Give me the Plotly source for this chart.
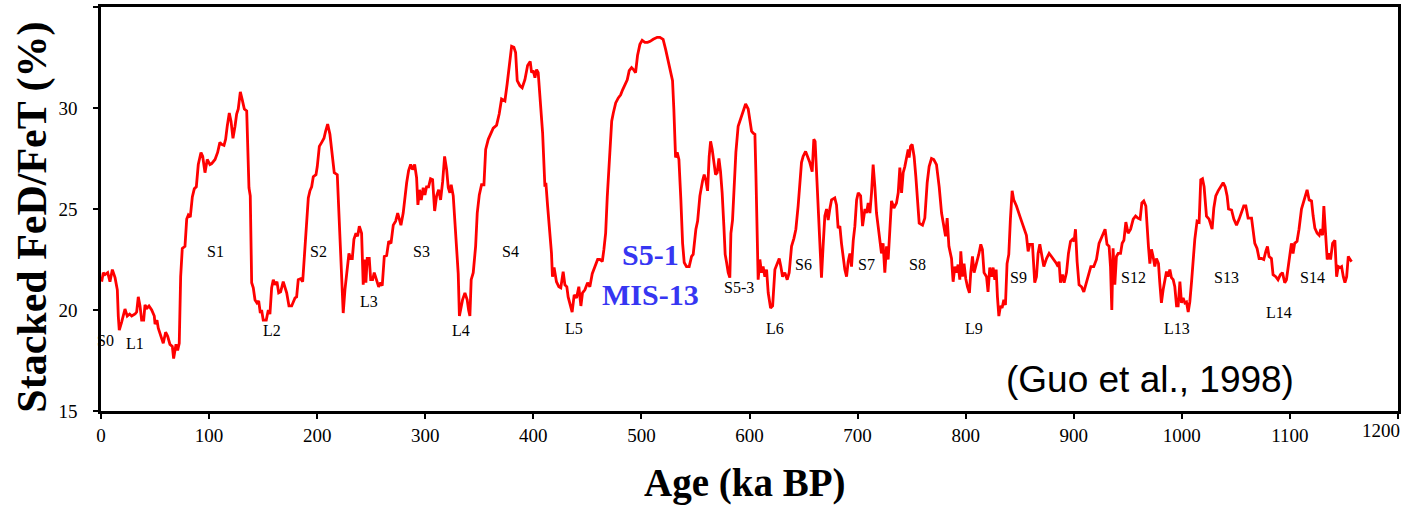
import plotly.graph_objects as go

# Age (ka BP) and stacked FeD/FeT (%)
AGE = [0.6, 2.1, 3.7, 6.2, 8.3, 10.5, 13, 15.1, 16, 16.9, 19.1, 22.2, 24.3, 26.5, 28.4, 31.5, 33, 34.5, 36.1, 37.6,
       39.5, 40.7, 42.6, 44.4, 46.9, 49.3, 50, 51.8, 53, 55.5, 57.6, 59.8, 61.7, 63.8, 66, 67.2, 68.4, 69.4, 70.9, 72.4,
       73.7, 75.2, 77.7, 79.3, 80.8, 82.6, 84.5, 86.3, 88.2, 90, 92.5, 94.1, 96.2, 98.3, 100.8, 102.4, 105.5, 107.9, 110, 111.6,
       113.8, 115.3, 116.8, 118.7, 120.3, 122.1, 124, 125.5, 127, 128.9, 130.7, 132.6, 134.8, 135.7, 136.9, 138.1, 139.4, 140.9, 142.5, 144.3,
       145.9, 147.4, 148.6, 150.1, 152.9, 154.8, 156.3, 157.9, 159.4, 161, 162.8, 164.4, 166.2, 168.6, 171.8, 173.9, 176.4, 179.5, 181, 182.5,
       184.7, 186.6, 188.7, 190.3, 191.8, 193.3, 194.9, 196.4, 198.9, 200.1, 202, 204.2, 206.3, 207.8, 209.7, 211.8, 214, 215.8, 218.6, 219.5,
       221.1, 222.6, 224.1, 225.7, 227.8, 229.4, 231, 232.5, 234, 235.9, 237.4, 239, 241.1, 242.6, 244.2, 245.1, 246.3, 248.2, 249.5, 251.3,
       252.8, 255, 256.9, 258.7, 260.2, 262.1, 264.3, 266.2, 268.3, 270.4, 272.6, 274.5, 276, 277.5, 279.6, 281.2, 282.8, 284.6, 286.5, 288.3,
       290.2, 292, 293.2, 294.7, 296.3, 298.1, 299.7, 301.2, 303.1, 304.9, 306.8, 308.7, 310.5, 312.4, 314.2, 316.1, 317.9, 319.8, 321.3, 322.8,
       324, 325.9, 327.5, 329, 330.5, 331.6, 334.5, 336.7, 338.8, 340.1, 341.3, 342.5, 344.4, 346.6, 348.1, 350, 352.1, 354.3, 355.9, 358.3,
       360.8, 362.9, 366, 368.4, 370.6, 373.7, 375.8, 377.7, 379.9, 382, 383.6, 385.1, 387.6, 389.7, 392.2, 394.7, 397.1, 398.4, 399.9, 401.5,
       403, 404.5, 407, 408.6, 410.7, 411.6, 413.2, 415.3, 416.8, 417.7, 419.2, 421.4, 423.6, 425.4, 427.6, 429.2, 431, 432.2, 434.1, 435.9,
       437.8, 440, 442.1, 444, 445.5, 447.7, 450.2, 452.3, 454.5, 457, 459.5, 461.6, 463.8, 465.3, 466.9, 468.4, 470, 471.2, 472.5, 474,
       476.2, 478.6, 480.8, 482.6, 484.7, 486.9, 488.7, 490.9, 492.7, 494.6, 496.4, 498.6, 500.7, 503.2, 505.7, 508.1, 510.9, 514.6, 517.1, 520.1,
       522.4, 524.8, 526.4, 528.8, 530, 531.6, 533.1, 534.7, 536.5, 538.1, 539.6, 541.7, 544.2, 546.4, 547.9, 550.4, 552, 554.1, 556.6, 558.1,
       559.7, 561.2, 562.7, 564, 565.5, 567.1, 568.6, 570.1, 571.7, 573.2, 574.7, 576.3, 577.5, 578.8, 580.3, 581.8, 582.8, 584.3, 585.8, 587.4,
       589.5, 591.1, 593.6, 596.4, 598.8, 600.3, 601.9, 603.4, 605, 605.9, 607.1, 608, 609.6, 611.1, 612.6, 614.2, 615.8, 617.3, 619.5, 621.4,
       623.5, 625.6, 627.5, 629, 630.6, 632.7, 634.9, 636.7, 638.9, 641.1, 642.9, 645, 646.6, 648.1, 649.6, 651.9, 653.7, 655.8, 658, 659.5,
       660.7, 662, 663.5, 665.1, 666.6, 668.1, 669.7, 671.3, 672.8, 674.3, 675.9, 678.9, 680.5, 682, 683.6, 685.1, 686.7, 688.2, 689.8, 691.3,
       692.9, 694.4, 696, 697.5, 699.1, 700.6, 702.8, 704.6, 706.8, 708.3, 709.8, 711.4, 712.9, 714.4, 716, 717.5, 719, 720.6, 722.1, 723.6,
       725.2, 726.8, 728.3, 729.9, 731.4, 733.6, 736, 737.6, 739.1, 740.7, 742.2, 743.7, 745.3, 746.8, 747.7, 749, 750.5, 752.3, 753.9, 755.5,
       757, 760.1, 762.2, 764.4, 766.2, 768.4, 770.5, 773, 775.5, 777.7, 779.8, 781.4, 782.9, 784.5, 786.9, 788.4, 790, 791.5, 793, 794.6,
       795.5, 797.1, 798.5, 800.1, 801.7, 803.5, 804.7, 806.3, 807.8, 810, 812.1, 814, 815.5, 817, 819.3, 820.7, 822.3, 823.9, 825.4, 827,
       828.2, 829.4, 830.7, 832.2, 833.7, 835.3, 836.8, 838.3, 839.9, 841.4, 843, 844.5, 847, 850.1, 853.1, 856.2, 857.8, 859.3, 861.8, 863.9,
       865.5, 867, 868.6, 870.1, 872.3, 874.8, 877.2, 879.4, 881.5, 884, 885.5, 886.4, 887.7, 889.6, 891.1, 893.3, 895.1, 897, 898.8, 900.3,
       901.6, 903.1, 904.9, 907.2, 909.3, 911.8, 913.9, 915.8, 918.5, 921, 923.4, 925.6, 927.8, 929, 930.8, 932.7, 934, 935.2, 936.4, 938,
       939.5, 941.1, 943.3, 944.8, 946.4, 948.2, 950.3, 952.6, 955, 957.2, 959.3, 961.4, 963, 964.8, 966.7, 967.9, 969.1, 970.4, 971.9, 973.4,
       975, 976.5, 978.4, 979.6, 981.1, 982.7, 984.5, 985.8, 987.3, 988.9, 990.4, 992, 993.5, 995.1, 996.6, 998.2, 999.7, 1001.2, 1002.8, 1004.3,
       1005.9, 1007.4, 1009, 1010.4, 1012, 1014.1, 1016, 1017.5, 1019.1, 1020.6, 1022.8, 1025.2, 1026.5, 1028, 1029.6, 1031.4, 1033.6, 1035.8, 1038.2, 1040.1,
       1041.9, 1043.2, 1046, 1048.1, 1050.6, 1053, 1055.2, 1057.3, 1059.2, 1061.3, 1064.5, 1066, 1067.5, 1069.6, 1071.5, 1073.7, 1075.8, 1077.7, 1079.2, 1080.7,
       1082.9, 1084.4, 1086.9, 1089, 1091.2, 1093.1, 1095.2, 1096.8, 1098.3, 1099.8, 1101.4, 1102.9, 1104.4, 1106.6, 1108.4, 1110.7, 1112.8, 1114.7, 1115.9, 1117.8,
       1120, 1121.5, 1123.1, 1125.2, 1127.1, 1128.6, 1130.2, 1131.4, 1133, 1134.5, 1136.1, 1137.6, 1139.5, 1141.6, 1143.2, 1144.7, 1146.3, 1147.8, 1149.4, 1150.9,
       1152.5, 1154, 1155.6, 1157.1]

FED = [21.4, 21.85, 21.75, 21.85, 21.4, 22.0, 21.6, 21.0, 19.7, 19.0, 19.4, 20.05, 19.7, 19.8, 19.7, 19.8, 19.9, 20.65, 20.2, 19.5,
       19.5, 20.25, 20.1, 20.2, 20.0, 19.7, 19.3, 19.5, 19.1, 18.7, 18.35, 18.9, 18.7, 18.3, 18.2, 17.6, 18.0, 18.3, 18.0, 18.35,
       21.65, 23.05, 23.15, 24.5, 24.7, 24.6, 25.6, 26.0, 26.1, 27.2, 27.8, 27.6, 26.8, 27.45, 27.2, 27.25, 27.45, 27.8, 28.3, 28.2,
       28.15, 28.45, 29.1, 29.75, 29.35, 28.5, 29.1, 29.7, 29.95, 30.8, 30.4, 29.95, 29.85, 27.6, 26.05, 25.65, 21.35, 21.1, 20.5, 20.35,
       20.45, 19.85, 20.0, 19.5, 19.5, 20.0, 19.8, 21.1, 21.5, 21.25, 21.4, 20.85, 20.9, 21.4, 20.85, 20.2, 20.2, 20.6, 20.65, 21.5,
       21.55, 21.4, 23.0, 24.65, 25.55, 25.9, 26.1, 26.6, 26.7, 27.1, 28.1, 28.3, 28.5, 28.85, 29.2, 28.7, 27.7, 26.8, 26.7, 25.6,
       23.3, 21.3, 19.85, 21.0, 22.0, 22.8, 22.55, 22.55, 23.5, 23.8, 23.65, 24.15, 23.8, 21.25, 22.5, 21.35, 22.55, 22.55, 21.5, 21.5,
       21.85, 21.4, 21.15, 21.35, 21.2, 22.65, 22.7, 23.4, 23.3, 24.2, 24.4, 24.8, 24.5, 24.2, 24.8, 25.65, 26.3, 26.9, 27.2, 26.95,
       27.2, 26.55, 25.2, 25.95, 25.45, 26.05, 25.7, 26.1, 26.1, 26.5, 26.45, 24.9, 25.65, 25.95, 25.45, 26.35, 27.6, 26.95, 26.05, 25.8,
       26.2, 25.65, 24.3, 23.1, 21.8, 19.7, 20.5, 20.85, 20.5, 20.0, 19.7, 21.5, 21.85, 23.15, 24.8, 25.7, 26.2, 26.2, 27.95, 28.45,
       28.8, 29.0, 29.15, 29.7, 30.45, 30.35, 31.2, 32.1, 33.05, 33.0, 32.75, 31.35, 31.1, 31.0, 31.4, 32.1, 32.3, 31.75, 31.85, 31.5,
       31.9, 31.75, 29.95, 28.75, 26.1, 26.3, 25.15, 23.8, 22.8, 21.65, 22.1, 21.4, 21.15, 21.1, 21.9, 21.25, 21.15, 20.65, 20.25, 19.9,
       20.75, 20.6, 21.15, 20.2, 20.85, 21.0, 21.35, 21.15, 21.8, 22.15, 22.5, 22.5, 22.4, 23.0, 23.8, 25.6, 27.3, 28.45, 29.35, 29.75,
       30.25, 30.5, 30.65, 30.9, 31.15, 31.4, 31.85, 32.0, 31.9, 31.75, 32.6, 33.15, 33.35, 33.25, 33.25, 33.3, 33.4, 33.5, 33.5, 33.4,
       32.9, 32.3, 31.85, 31.35, 29.95, 27.55, 27.8, 27.45, 25.45, 23.3, 22.35, 22.15, 22.15, 22.65, 22.75, 24.0, 24.4, 25.65, 26.4, 26.7,
       26.4, 25.9, 27.6, 28.35, 27.95, 27.3, 26.7, 26.8, 27.5, 26.85, 25.8, 24.15, 22.75, 22.35, 21.85, 21.6, 23.8, 24.45, 26.1, 27.8,
       29.1, 29.35, 29.7, 30.2, 29.95, 29.5, 28.85, 28.75, 28.7, 26.8, 23.8, 21.5, 22.5, 21.85, 22.15, 21.65, 22.0, 20.85, 20.1, 20.2,
       22.0, 22.35, 22.55, 22.15, 21.65, 21.85, 21.5, 21.85, 23.15, 23.55, 24.0, 25.15, 26.1, 27.3, 27.6, 27.85, 27.6, 27.3, 26.85, 28.45,
       28.35, 26.8, 24.65, 23.15, 21.6, 23.15, 24.65, 25.0, 24.45, 25.0, 25.45, 25.55, 25.2, 24.05, 24.15, 23.3, 22.5, 22.0, 21.65, 22.4,
       22.8, 22.15, 23.45, 24.15, 25.45, 25.8, 25.65, 24.15, 25.0, 24.8, 25.3, 24.8, 25.8, 27.2, 26.1, 24.8, 24.15, 23.45, 22.8, 23.3,
       21.85, 23.15, 22.5, 24.0, 25.4, 25.05, 25.3, 25.8, 27.05, 25.8, 26.8, 27.1, 27.6, 27.95, 27.55, 28.1, 28.2, 27.6, 26.6, 25.15,
       24.3, 24.2, 24.55, 26.3, 27.1, 27.5, 27.45, 27.2, 26.1, 24.8, 24.15, 23.65, 24.55, 23.15, 22.55, 21.4, 22.15, 21.85, 22.25, 21.5,
       22.9, 21.65, 22.3, 21.55, 21.15, 20.85, 21.85, 22.65, 21.85, 22.25, 22.75, 23.25, 23.0, 21.85, 21.65, 20.9, 22.1, 21.65, 22.1, 21.5,
       22.0, 20.65, 19.7, 20.2, 20.1, 20.5, 20.25, 22.3, 22.75, 24.5, 25.9, 25.45, 25.15, 24.65, 24.15, 23.7, 22.9, 23.25, 23.25, 21.35,
       21.65, 22.8, 23.25, 22.75, 22.15, 22.55, 22.8, 22.65, 22.5, 22.3, 22.15, 22.4, 21.35, 21.75, 21.35, 21.85, 22.8, 23.4, 23.5, 23.4,
       24.0, 22.4, 21.25, 21.15, 20.9, 21.35, 21.85, 22.15, 22.15, 22.5, 23.3, 23.55, 23.8, 24.0, 23.25, 23.15, 22.15, 20.0, 23.05, 21.25,
       22.65, 22.8, 22.8, 23.3, 23.45, 24.35, 23.8, 24.0, 24.5, 24.65, 24.55, 24.5, 25.3, 25.4, 25.15, 23.8, 23.15, 22.3, 23.0, 22.65,
       22.15, 22.55, 22.3, 21.35, 20.35, 21.0, 21.65, 21.9, 21.65, 22.0, 21.6, 21.5, 21.15, 20.2, 20.2, 21.4, 20.35, 20.6, 20.35, 20.4,
       19.9, 20.4, 21.4, 22.5, 23.5, 24.4, 24.35, 26.45, 26.5, 26.1, 24.65, 24.5, 24.3, 24.0, 25.05, 25.65, 25.9, 26.1, 26.3, 26.1,
       25.65, 25.0, 24.95, 24.5, 24.2, 24.5, 24.8, 25.15, 25.15, 24.55, 24.55, 24.0, 23.3, 23.05, 22.55, 22.55, 22.5, 22.9, 23.15, 22.65,
       22.55, 21.75, 21.65, 21.5, 21.75, 21.85, 21.35, 21.5, 22.15, 22.8, 23.3, 22.8, 23.3, 23.4, 24.0, 25.0, 25.4, 25.8, 25.95, 25.45,
       25.4, 24.65, 24.05, 23.8, 23.7, 24.0, 23.7, 25.15, 23.8, 22.5, 22.8, 22.5, 23.3, 23.45, 21.65, 22.15, 22.1, 22.15, 21.65, 21.35,
       21.65, 22.65, 22.5, 22.4]

# Stratigraphic labels (loess L / palaeosol S units)
UNIT_LABELS = ["S0", "L1", "S1", "L2", "S2", "L3", "S3", "L4", "S4", "L5", "S5-3", "L6", "S6", "S7", "S8",
               "L9", "S9", "S12", "L13", "S13", "L14", "S14"]
UNIT_AGE = [3.7, 31.9, 105.9, 158.5, 201, 248.2, 296.9, 333, 378.6, 437.8, 590.2, 623.8, 650, 708.6, 755.5,
            807.4, 849.2, 955.4, 995.1, 1041.2, 1090, 1120.5]
UNIT_VAL = [18.5, 18.34, 22.89, 18.98, 22.89, 20.42, 22.89, 18.98, 22.89, 19.07, 21.13, 19.07, 22.25, 22.25, 22.25,
            19.07, 21.61, 21.61, 19.07, 21.61, 19.89, 21.61]

HIGHLIGHT_TEXT = ["S5-1", "MIS-13"]
HIGHLIGHT_AGE = [508, 508.6]
HIGHLIGHT_VAL = [22.74, 20.75]

SOURCE_TEXT = "(Guo et al., 1998)"
SOURCE_AGE, SOURCE_VAL = 970.4, 16.54

X_TITLE = "Age (ka BP)"
Y_TITLE = "Stacked FeD/FeT (%)"

X_TICKS = [0, 100, 200, 300, 400, 500, 600, 700, 800, 900, 1000, 1100, 1200]
Y_TICKS = [15, 20, 25, 30, 35]
Y_TICKTEXT = ["15", "20", "25", "30", ""]

SERIF = "Liberation Serif, Times New Roman, serif"

fig = go.Figure()
fig.add_trace(go.Scatter(x=AGE, y=FED, mode="lines",
                         line=dict(color="#FF0000", width=2.8), showlegend=False))

ann = []
for t, a, v in zip(UNIT_LABELS, UNIT_AGE, UNIT_VAL):
    ann.append(dict(x=a, y=v, xref="x", yref="y", text=t, showarrow=False,
                    font=dict(family=SERIF, size=16, color="black")))
for t, a, v in zip(HIGHLIGHT_TEXT, HIGHLIGHT_AGE, HIGHLIGHT_VAL):
    ann.append(dict(x=a, y=v, xref="x", yref="y", text=t, showarrow=False,
                    font=dict(family=SERIF, size=30, color="#3636F2", weight="bold")))
ann.append(dict(x=SOURCE_AGE, y=SOURCE_VAL, xref="x", yref="y", text=SOURCE_TEXT, showarrow=False,
                font=dict(family="Liberation Sans, Arial, sans-serif", size=37, color="black")))
# last x tick label, right-aligned so it stays inside the page
ann.append(dict(x=1, y=0, xref="paper", yref="paper", text=str(X_TICKS[-1]), showarrow=False,
                xanchor="right", yanchor="top", xshift=4, yshift=-7,
                font=dict(family=SERIF, size=19, color="black")))
# axis titles
ann.append(dict(x=0.4965, y=-0.2376, xref="paper", yref="paper", text=X_TITLE, showarrow=False,
                xanchor="center", yanchor="bottom",
                font=dict(family=SERIF, size=39, color="black", weight="bold")))
ann.append(dict(x=-0.0535, y=0.48, xref="paper", yref="paper", text=Y_TITLE, showarrow=False,
                xanchor="center", yanchor="middle", textangle=-90,
                font=dict(family=SERIF, size=42, color="black", weight="bold")))

xt_text = [str(v) for v in X_TICKS[:-1]] + [""]

fig.update_layout(
    width=1414, height=508,
    margin=dict(l=101, r=16, t=7, b=97, autoexpand=False),
    paper_bgcolor="white", plot_bgcolor="white",
    annotations=ann,
    xaxis=dict(range=[0, 1200], tickvals=X_TICKS, ticktext=xt_text, automargin=False,
               ticks="outside", ticklen=5, tickwidth=1.5, tickcolor="black",
               showline=True, linewidth=2.5, linecolor="black", mirror=True,
               showgrid=False, zeroline=False,
               tickfont=dict(family=SERIF, size=19, color="black")),
    yaxis=dict(range=[15, 35], tickvals=Y_TICKS, ticktext=Y_TICKTEXT, automargin=False,
               ticks="outside", ticklen=5, tickwidth=1.5, tickcolor="black",
               showline=True, linewidth=2.5, linecolor="black", mirror=True,
               showgrid=False, zeroline=False, ticklabelstandoff=12,
               tickfont=dict(family=SERIF, size=19, color="black")),
)

fig.write_html("out.html", config={"displayModeBar": False},
               post_script="document.body.style.margin='0px';document.body.style.overflow='hidden';")
